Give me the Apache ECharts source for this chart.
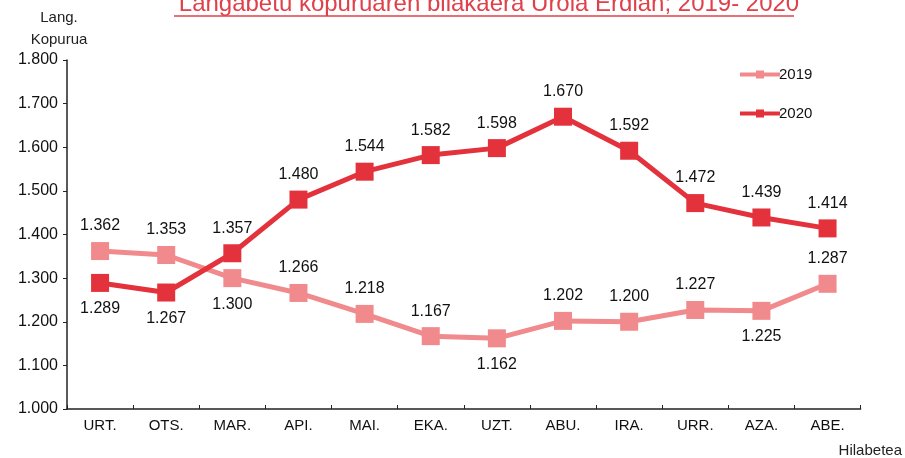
<!doctype html>
<html lang="eu">
<head>
<meta charset="UTF-8">
<title>Langabetu kopurua</title>
<style>
    html, body { margin: 0; padding: 0; background: #fff; }
    #myChart { width: 905px; height: 458px; }
</style>
</head>
<body>
<div id="myChart"></div>
<script src="https://cdn.jsdelivr.net/npm/echarts@6/dist/echarts.min.js"></script>
<script>
var months = ['URT.', 'OTS.', 'MAR.', 'API.', 'MAI.', 'EKA.', 'UZT.', 'ABU.', 'IRA.', 'URR.', 'AZA.', 'ABE.'];
var data2019 = [1362, 1353, 1300, 1266, 1218, 1167, 1162, 1202, 1200, 1227, 1225, 1287];
var data2020 = [1289, 1267, 1357, 1480, 1544, 1582, 1598, 1670, 1592, 1472, 1439, 1414];
// which labels sit below the point
var below2019 = [false, false, true, false, false, false, true, false, false, false, true, false];
var below2020 = [true, true, false, false, false, false, false, false, false, false, false, false];

var c2019 = '#f08a8d';
var c2020 = '#e3323b';
var font = 'Liberation Sans, Arial, sans-serif';

function fmt(v) {
    var s = String(Math.round(v));
    return s.length > 3 ? s.slice(0, s.length - 3) + '.' + s.slice(-3) : s;
}

function points(values, below) {
    return values.map(function (v, i) {
        return {
            value: v,
            label: {position: below[i] ? 'bottom' : 'top', distance: below[i] ? 9 : 8}
        };
    });
}

var myChart = echarts.init(document.getElementById('myChart'));

var option = {
    backgroundColor: '#fff',
    animation: false,
    textStyle: {fontFamily: font},
    title: {
        text: 'Langabetu kopuruaren bilakaera Urola Erdian; 2019- 2020',
        left: 484,
        textAlign: 'center',
        top: -13,
        textStyle: {color: '#e0404a', fontSize: 24, fontWeight: 'normal', fontFamily: font}
    },
    graphic: [{
        type: 'line',
        shape: {x1: 174, y1: 16, x2: 794, y2: 16},
        style: {stroke: '#e0404a', lineWidth: 1.5}
    }],
    legend: {
        orient: 'vertical',
        left: 733,
        top: 62,
        itemGap: 24,
        itemWidth: 40,
        itemHeight: 10,
        data: [
            {name: '2019', itemStyle: {color: c2019}, lineStyle: {width: 4}},
            {name: '2020', itemStyle: {color: c2020}, lineStyle: {width: 4}}
        ],
        textStyle: {fontSize: 15, color: '#111', fontFamily: font, padding: [0, 0, 0, -6]}
    },
    grid: {left: 67, right: 44, top: 60, bottom: 45, containLabel: false},
    xAxis: {
        type: 'category',
        data: months,
        name: 'Hilabetea',
        nameLocation: 'end',
        nameGap: 0,
        nameTextStyle: {fontSize: 15, color: '#222', padding: [34, 0, 0, -22], verticalAlign: 'top'},
        axisLine: {lineStyle: {color: '#222', width: 1.5}},
        axisTick: {show: true, alignWithLabel: false, length: 4, inside: true, lineStyle: {color: '#222'}},
        axisLabel: {fontSize: 15, color: '#111', margin: 9}
    },
    yAxis: {
        type: 'value',
        min: 1000,
        max: 1800,
        interval: 100,
        name: 'Lang.\nKopurua',
        nameLocation: 'end',
        nameGap: 9,
        nameTextStyle: {fontSize: 15, color: '#222', align: 'center', lineHeight: 22, padding: [0, 0, 0, -16]},
        axisLine: {show: true, lineStyle: {color: '#222', width: 1.5}},
        axisTick: {show: true, length: 4, lineStyle: {color: '#222'}},
        splitLine: {show: false},
        axisLabel: {
            fontSize: 16, color: '#111', margin: 9,
            formatter: function (v) { return fmt(v); }
        }
    },
    series: [
        {
            name: '2019',
            type: 'line',
            data: points(data2019, below2019),
            symbol: 'rect',
            symbolSize: 18,
            lineStyle: {width: 5, color: c2019},
            itemStyle: {color: c2019},
            label: {show: true, fontSize: 16, color: '#111', formatter: function (p) { return fmt(p.value); }}
        },
        {
            name: '2020',
            type: 'line',
            data: points(data2020, below2020),
            symbol: 'rect',
            symbolSize: 18,
            lineStyle: {width: 5, color: c2020},
            itemStyle: {color: c2020},
            label: {show: true, fontSize: 16, color: '#111', formatter: function (p) { return fmt(p.value); }}
        }
    ]
};

myChart.setOption(option);
</script>
</body>
</html>
